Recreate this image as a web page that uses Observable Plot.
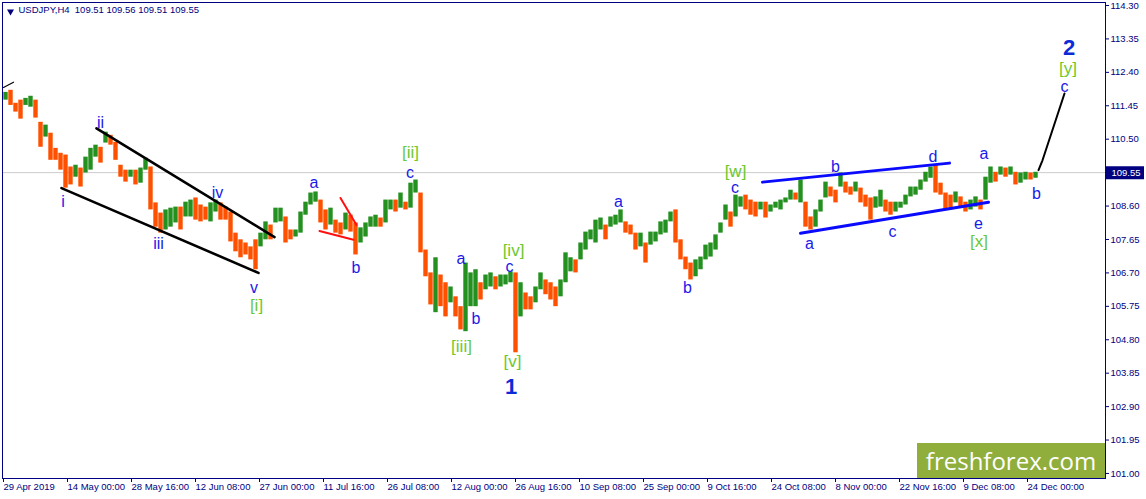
<!DOCTYPE html>
<html>
<head>
<meta charset="utf-8">
<script src="https://cdn.jsdelivr.net/npm/d3@7"></script>
<script src="https://cdn.jsdelivr.net/npm/@observablehq/plot@0.6"></script>
<style>
  html, body { margin: 0; padding: 0; background: #fff; }
  #chart { position: relative; width: 1146px; height: 499px; overflow: hidden; }
  #wm { position: absolute; left: 917px; top: 443px; width: 188px; height: 35px;
        background: #8fae3c; color: #fff; font-family: "Open Sans", sans-serif;
        font-size: 24px; line-height: 35px; text-align: center; }
</style>
</head>
<body>
<div id="chart"><div id="wm">freshforex.com</div></div>
<script>
// ---- Header data ----
const symbol = "USDJPY";
const timeframe = "H4";
const lastOHLC = [109.51, 109.56, 109.51, 109.55];
const lastClose = 109.55;

// ---- Price series: each entry aggregates 5 H4 bars (high / low) ----
const highs = [
  111.83,111.89,111.52,111.61,111.66,111.72,111.61,110.98,110.90,110.67,
  110.24,110.10,110.05,109.71,109.76,109.68,109.99,110.24,110.33,110.27,
  110.70,110.61,110.41,109.76,109.62,109.62,109.62,109.68,109.96,109.71,
  108.69,108.40,108.49,108.54,108.57,108.57,108.71,108.77,108.83,108.63,
  108.57,108.69,108.77,108.69,108.57,108.43,107.83,107.64,107.55,107.44,
  107.64,107.83,108.15,108.06,108.54,108.54,108.29,107.92,107.92,108.43,
  108.71,108.97,109.00,108.77,108.49,108.54,108.20,108.12,108.40,108.34,
  108.12,107.98,108.12,108.29,108.34,108.26,108.77,108.77,108.77,108.97,
  108.71,109.25,109.34,108.97,107.35,106.70,107.13,106.64,106.42,106.30,
  106.02,105.74,106.98,106.70,106.79,106.42,106.64,106.70,106.59,106.64,
  106.64,106.73,106.70,106.42,106.13,106.02,106.30,106.70,106.50,106.42,
  106.30,106.50,107.27,107.13,107.07,107.55,107.86,107.92,108.20,108.26,
  108.06,108.29,108.34,108.49,108.15,108.06,107.83,107.83,107.55,107.86,
  107.86,108.15,108.20,108.43,108.49,107.64,107.15,106.98,107.07,107.15,
  107.49,107.55,107.78,108.12,108.63,108.43,108.91,108.86,108.91,108.77,
  108.71,108.71,108.71,108.63,108.71,108.77,108.83,109.05,108.97,109.34,
  108.71,108.29,108.49,108.77,109.28,109.14,109.05,109.54,109.28,109.14,
  109.28,109.11,108.91,108.83,108.86,109.05,108.77,108.71,108.71,108.71,
  108.91,109.14,109.14,109.34,109.56,109.71,109.76,109.25,108.97,108.91,
  109.00,108.86,108.71,108.77,108.86,108.77,109.42,109.71,109.56,109.71,
  109.68,109.71,109.56,109.54,109.56,109.54,109.56
];
const lows = [
  111.61,111.46,111.27,111.07,111.46,111.41,111.10,110.27,110.56,109.90,
  109.90,109.62,109.11,109.20,109.42,109.14,109.54,109.62,109.99,109.82,
  110.39,110.33,109.90,109.42,109.28,109.42,109.20,109.25,109.62,108.49,
  108.00,107.83,107.92,108.00,108.12,107.92,108.29,108.29,108.20,108.15,
  108.20,108.15,108.43,108.20,108.20,107.58,107.30,107.13,107.21,107.07,
  106.79,107.44,107.64,107.64,108.12,108.15,107.55,107.64,107.72,107.83,
  108.34,108.63,108.71,108.12,107.92,108.06,107.83,107.78,107.92,107.86,
  107.21,107.55,107.72,108.00,108.00,108.00,108.12,108.49,108.43,108.54,
  108.49,108.54,108.97,107.27,106.59,105.79,105.57,105.74,105.45,105.85,
  105.45,105.08,105.03,105.74,105.74,105.93,106.22,106.30,106.22,106.30,
  106.36,106.42,104.43,105.45,105.65,105.65,105.85,106.22,106.08,105.93,
  105.74,106.02,106.42,106.73,106.70,107.07,107.35,107.64,107.55,107.92,
  107.64,108.00,108.06,108.12,107.83,107.78,107.35,107.44,106.98,107.49,
  107.58,107.78,107.83,108.15,107.55,107.07,106.79,106.50,106.59,106.79,
  107.07,107.15,107.35,107.83,108.20,108.00,108.29,108.57,108.49,108.34,
  108.29,108.49,108.26,108.43,108.54,108.49,108.69,108.77,108.77,108.69,
  108.00,107.92,108.00,108.43,108.83,108.86,108.69,109.14,108.97,108.91,
  109.00,108.69,108.57,108.20,108.54,108.57,108.43,108.34,108.43,108.54,
  108.63,108.86,108.91,109.05,109.28,109.39,108.97,108.91,108.49,108.54,
  108.69,108.57,108.43,108.49,108.57,108.49,108.77,109.25,109.28,109.48,
  109.42,109.48,109.20,109.25,109.34,109.34,109.39
];
const barsPerEntry = 5;

// ---- Axis ticks ----
const priceTicks = [114.30,113.35,112.40,111.45,110.50,109.55,108.60,107.65,106.70,105.75,104.80,103.85,102.90,101.95,101.00];
const dateTickBars = [0,64,128,192,256,320,384,448,512,576,640,704,768,832,896,960,1024];
const dateTickLabels = ["29 Apr 2019","14 May 00:00","28 May 16:00","12 Jun 08:00","27 Jun 00:00","11 Jul 16:00","26 Jul 08:00","12 Aug 00:00","26 Aug 16:00","10 Sep 08:00","25 Sep 00:00","9 Oct 16:00","24 Oct 08:00","8 Nov 00:00","22 Nov 16:00","9 Dec 08:00","24 Dec 00:00"];

// ---- Drawn analysis lines (bar index, price) ----
const channelUpper = [{bar: 93, price: 110.81}, {bar: 271, price: 107.72}];
const channelLower = [{bar: 58, price: 109.11}, {bar: 255, price: 106.70}];
const stubLine = [{bar: 0, price: 111.97}, {bar: 10, price: 112.12}];
const redLine1 = [{bar: 316, price: 107.89}, {bar: 350, price: 107.64}];
const redLine2 = [{bar: 337, price: 108.83}, {bar: 353, price: 108.06}];
const triUpper = [{bar: 759, price: 109.28}, {bar: 946, price: 109.82}];
const triLower = [{bar: 797, price: 107.83}, {bar: 985, price: 108.71}];
const projection = [{bar: 1035, price: 109.62}, {bar: 1039, price: 109.90}, {bar: 1061, price: 111.80}];

// ---- Wave labels ----
const minorLabels = [
  {t:"i", bar:59.5, price:108.73}, {t:"ii", bar:97, price:110.97}, {t:"iii", bar:155, price:107.52},
  {t:"iv", bar:214, price:108.98}, {t:"v", bar:250.5, price:106.27},
  {t:"a", bar:310.5, price:109.25}, {t:"b", bar:352.5, price:106.84}, {t:"c", bar:406.5, price:109.54},
  {t:"a", bar:457.5, price:107.10}, {t:"b", bar:472.5, price:105.39}, {t:"c", bar:506, price:106.86},
  {t:"a", bar:615, price:108.71}, {t:"b", bar:684, price:106.27}, {t:"c", bar:731.5, price:109.11},
  {t:"a", bar:806, price:107.52}, {t:"b", bar:832, price:109.72}, {t:"c", bar:889, price:107.88},
  {t:"d", bar:929.5, price:109.99}, {t:"e", bar:975, price:108.09},
  {t:"a", bar:980.5, price:110.09}, {t:"b", bar:1033, price:108.95}, {t:"c", bar:1061, price:111.98}
];
const bracketLabels = [
  {t:"[i]", bar:253, price:105.76}, {t:"[ii]", bar:407, price:110.13}, {t:"[iii]", bar:458, price:104.62},
  {t:"[iv]", bar:510, price:107.33}, {t:"[v]", bar:509, price:104.17}, {t:"[w]", bar:732, price:109.59},
  {t:"[x]", bar:975.5, price:107.59}, {t:"[y]", bar:1064.5, price:112.50}
];
const majorLabels = [
  {t:"1", bar:507.5, price:103.46}, {t:"2", bar:1065.5, price:113.09}
];

// ---- Build ----
const navy = "#000080";
const green = "#23901f";
const orange = "#ff5000";
const bars = highs.map((h, i) => ({x1: i * barsPerEntry, x2: (i + 1) * barsPerEntry, hi: h, lo: lows[i]}));
bars.forEach((b, i) => {
  const m = (b.hi + b.lo) / 2;
  const pm = i ? (bars[i - 1].hi + bars[i - 1].lo) / 2 : m;
  b.up = m >= pm;
});
const labelMap = new Map(dateTickBars.map((b, i) => [b, dateTickLabels[i]]));
const headerText = `${symbol},${timeframe}\u00a0\u00a0${lastOHLC.map(v => v.toFixed(2)).join(" ")}`;
const font = "'Liberation Sans', Arial, sans-serif";

const chart = Plot.plot({
  width: 1146,
  height: 499,
  marginLeft: 2,
  marginTop: 2,
  marginRight: 41,
  marginBottom: 21,
  style: {fontFamily: font, color: navy, background: "white", overflow: "visible"},
  x: {type: "linear", domain: [-1, 1102]},
  y: {domain: [100.857, 114.385]},
  marks: [
    Plot.ruleY([lastClose], {x1: -1, x2: 1102, stroke: "#cccccc", strokeWidth: 1}),
    Plot.rect(bars, {x1: "x1", x2: "x2", y1: "lo", y2: "hi", fill: d => d.up ? green : orange, insetLeft: 0.3, insetRight: 0.3}),
    Plot.line(stubLine, {x: "bar", y: "price", stroke: "black", strokeWidth: 1.2}),
    Plot.line(channelUpper, {x: "bar", y: "price", stroke: "black", strokeWidth: 2.6}),
    Plot.line(channelLower, {x: "bar", y: "price", stroke: "black", strokeWidth: 2.6}),
    Plot.line(redLine1, {x: "bar", y: "price", stroke: "#ff1010", strokeWidth: 2}),
    Plot.line(redLine2, {x: "bar", y: "price", stroke: "#ff1010", strokeWidth: 2}),
    Plot.line(triUpper, {x: "bar", y: "price", stroke: "#0a0aff", strokeWidth: 3}),
    Plot.line(triLower, {x: "bar", y: "price", stroke: "#0a0aff", strokeWidth: 3}),
    Plot.line(projection, {x: "bar", y: "price", stroke: "black", strokeWidth: 2}),
    Plot.text(minorLabels, {x: "bar", y: "price", text: "t", fill: "#1a1ae8", fontSize: 16, fontFamily: font}),
    Plot.text(bracketLabels, {x: "bar", y: "price", text: "t", fill: "#6cc82e", fontSize: 17, fontFamily: font}),
    Plot.text(majorLabels, {x: "bar", y: "price", text: "t", fill: "#0c2bd8", fontSize: 22, fontWeight: "bold", fontFamily: font}),
    Plot.frame({stroke: navy}),
    Plot.axisY({anchor: "right", ticks: priceTicks, tickFormat: d => d.toFixed(2), tickSize: 3, tickPadding: 2, fontSize: 9.5, fill: navy, stroke: navy, label: null}),
    Plot.axisX({anchor: "bottom", ticks: dateTickBars, tickFormat: d => labelMap.get(d), tickSize: 4, tickPadding: 1, textAnchor: "start", fontSize: 9.5, fill: navy, stroke: navy, label: null}),
    Plot.ruleY([lastClose], {x1: 1102.5, x2: 1141, stroke: navy, strokeWidth: 13}),
    Plot.text([lastClose], {x: 1102, y: d => d, text: d => d.toFixed(2), textAnchor: "start", dx: 6, fill: "white", fontSize: 9.5}),
    Plot.dot([0], {frameAnchor: "top-left", dx: 8, dy: 9, symbol: "triangle", rotate: 180, r: 2.6, fill: navy, stroke: "none"}),
    Plot.text([headerText], {frameAnchor: "top-left", dx: 16, dy: 4, textAnchor: "start", lineAnchor: "top", fill: navy, fontSize: 9.5})
  ]
});
document.getElementById("chart").insertBefore(chart, document.getElementById("wm"));
chart.style.position = "absolute";
chart.style.left = "0";
chart.style.top = "0";
</script>
</body>
</html>
